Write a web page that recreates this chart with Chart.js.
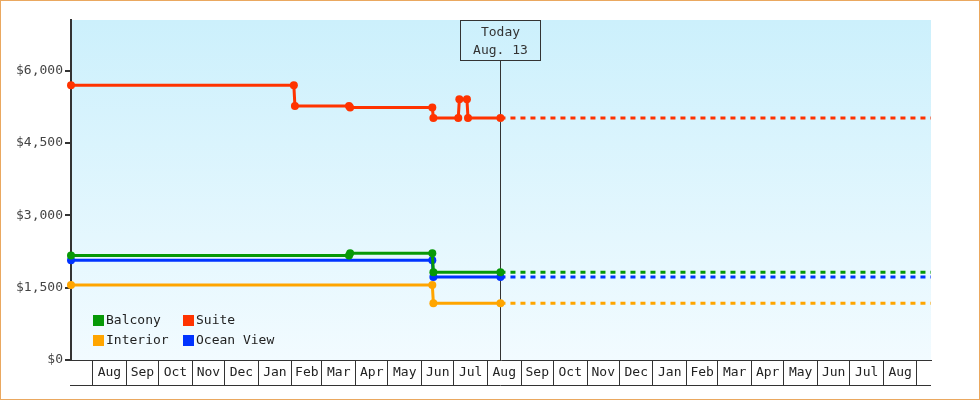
<!DOCTYPE html>
<html><head><meta charset="utf-8">
<script src="https://cdn.jsdelivr.net/npm/chart.js@4"></script>
<style>html,body{margin:0;padding:0;background:#fff}canvas{display:block}</style>
</head><body>
<canvas id="c" width="980" height="400"></canvas>
<script>
// ---- data ----
const seriesNames = ['Balcony', 'Suite', 'Interior', 'Ocean View'];
const seriesColors = ['#079907', '#ff3300', '#ffa500', '#0033ff'];

const balconyDates  = ['2014-07-12','2015-03-26','2015-03-27','2015-06-11','2015-06-12','2015-08-13','2016-09-14'];
const balconyPrices = [2165, 2165, 2215, 2215, 1820, 1820, 1820];

const suiteDates  = ['2014-07-12','2015-02-03','2015-02-04','2015-03-26','2015-03-27','2015-06-11','2015-06-12','2015-07-05','2015-07-06','2015-07-13','2015-07-14','2015-08-13','2016-09-14'];
const suitePrices = [5695, 5695, 5265, 5265, 5235, 5235, 5020, 5020, 5405, 5405, 5020, 5020, 5020];

const interiorDates  = ['2014-07-12','2015-06-11','2015-06-12','2015-08-13','2016-09-14'];
const interiorPrices = [1557, 1557, 1178, 1178, 1178];

const oceanDates  = ['2014-07-12','2015-06-11','2015-06-12','2015-08-13','2016-09-14'];
const oceanPrices = [2070, 2070, 1722, 1722, 1722];

const monthLabels = ['Aug','Sep','Oct','Nov','Dec','Jan','Feb','Mar','Apr','May','Jun','Jul',
                     'Aug','Sep','Oct','Nov','Dec','Jan','Feb','Mar','Apr','May','Jun','Jul','Aug'];
const firstMonthStart = '2014-08-01';
const xStart = '2014-07-12';
const xEnd = '2016-09-14';
const todayDate = '2015-08-13';
const todayLabel = ['Today', 'Aug. 13'];
const priceTicks = [0, 1500, 3000, 4500, 6000];
const priceMin = 0;
const priceMax = 7050;

// ---- helpers ----
function toDay(s) { const p = s.split('-').map(Number); return Date.UTC(p[0], p[1] - 1, p[2]) / 86400000; }
const todayX = toDay(todayDate);
const FONT = { family: '"DejaVu Sans Mono", monospace', size: 13 };

const seriesDates = [balconyDates, suiteDates, interiorDates, oceanDates];
const seriesPrices = [balconyPrices, suitePrices, interiorPrices, oceanPrices];

// month boundaries & label ticks
const xTicks = [];
(function () {
  const p = firstMonthStart.split('-').map(Number);
  const bounds = [];
  for (let i = 0; i <= monthLabels.length; i++) {
    bounds.push(Date.UTC(p[0], p[1] - 1 + i, 1) / 86400000);
  }
  for (let i = 0; i < bounds.length; i++) {
    xTicks.push({ value: bounds[i], boundary: true, txt: '' });
    if (i < monthLabels.length) {
      xTicks.push({ value: (bounds[i] + bounds[i + 1]) / 2, boundary: false, txt: monthLabels[i] });
    }
  }
})();

const datasets = seriesNames.map((name, i) => ({
  label: name,
  data: seriesDates[i].map((d, j) => ({ x: toDay(d), y: seriesPrices[i][j] })),
  borderColor: seriesColors[i],
  backgroundColor: seriesColors[i],
  pointBackgroundColor: seriesColors[i],
  pointBorderWidth: 0,
  pointStyle: 'circle',
  pointRadius: ctx => (ctx.parsed && ctx.parsed.x > todayX) ? 0 : 4,
  borderWidth: 3,
  tension: 0,
  fill: false,
  clip: false,
  borderCapStyle: 'butt',
  segment: { borderDash: ctx => ctx.p0.parsed.x >= todayX ? [5, 5] : undefined }
}));

const decorPlugin = {
  id: 'decor',
  beforeDraw(chart) {
    const { ctx, chartArea: a, width, height } = chart;
    ctx.save();
    ctx.fillStyle = '#ffffff';
    ctx.fillRect(0, 0, width, height);
    const g = ctx.createLinearGradient(0, a.top, 0, a.bottom);
    g.addColorStop(0, '#ccf0fc');
    g.addColorStop(1, '#f2fbff');
    ctx.fillStyle = g;
    ctx.fillRect(a.left, a.top, a.right - a.left, a.bottom - a.top);
    ctx.restore();
  },
  beforeDatasetsDraw(chart) {
    const { ctx, chartArea: a } = chart;
    const xs = chart.scales.x;
    const px = Math.round(xs.getPixelForValue(todayX)) + 0.5;
    ctx.save();
    ctx.strokeStyle = '#333';
    ctx.lineWidth = 1;
    const bw = 80, bh = 40;
    ctx.strokeRect(px - bw / 2, a.top + 0.5, bw, bh);
    ctx.beginPath();
    ctx.moveTo(px, a.top + 0.5 + bh);
    ctx.lineTo(px, a.bottom);
    ctx.stroke();
    ctx.fillStyle = '#333';
    ctx.font = FONT.size + 'px ' + FONT.family;
    ctx.textAlign = 'center';
    ctx.textBaseline = 'middle';
    ctx.fillText(todayLabel[0], px, a.top + 12.5);
    ctx.fillText(todayLabel[1], px, a.top + 30.5);
    ctx.restore();
  },
  afterDraw(chart) {
    const { ctx, chartArea: a, width, height } = chart;
    const xs = chart.scales.x;
    ctx.save();
    // bottom line of month boxes
    ctx.strokeStyle = '#333';
    ctx.lineWidth = 1;
    ctx.beginPath();
    ctx.moveTo(a.left - 1, xs.top + 25.5);
    ctx.lineTo(a.right, xs.top + 25.5);
    ctx.stroke();
    // legend
    ctx.font = FONT.size + 'px ' + FONT.family;
    ctx.textAlign = 'left';
    ctx.textBaseline = 'middle';
    chart.data.datasets.forEach((ds, i) => {
      const col = i % 2, row = Math.floor(i / 2);
      const bx = a.left + 22 + col * 90;
      const by = a.bottom - 45 + row * 20;
      ctx.fillStyle = ds.borderColor;
      ctx.fillRect(bx, by, 11, 11);
      ctx.fillStyle = '#222';
      ctx.fillText(ds.label, bx + 13, by + 6);
    });
    // canvas border
    ctx.strokeStyle = '#eaa860';
    ctx.lineWidth = 1;
    ctx.strokeRect(0.5, 0.5, width - 1, height - 1);
    ctx.restore();
  }
};

new Chart(document.getElementById('c'), {
  type: 'line',
  data: { datasets },
  plugins: [decorPlugin],
  options: {
    responsive: false,
    devicePixelRatio: 1,
    animation: false,
    events: [],
    layout: { padding: { left: 0, right: 49, top: 20, bottom: 15 } },
    plugins: { legend: { display: false }, tooltip: { enabled: false } },
    scales: {
      x: {
        type: 'linear',
        min: toDay(xStart),
        max: toDay(xEnd),
        afterBuildTicks: s => { s.ticks = xTicks.map(t => Object.assign({}, t)); },
        afterFit: s => { s.height = 25; },
        ticks: {
          autoSkip: false, maxRotation: 0, minRotation: 0,
          padding: -20, color: '#222', font: FONT,
          callback: (v, i, ticks) => ticks[i].txt
        },
        grid: {
          drawOnChartArea: false, drawTicks: true, tickLength: 25, lineWidth: 1,
          color: ctx => (ctx.tick && ctx.tick.boundary) ? '#333' : 'rgba(0,0,0,0)'
        },
        border: { display: true, color: '#333', width: 1 }
      },
      y: {
        type: 'linear',
        min: priceMin,
        max: priceMax,
        afterBuildTicks: s => { s.ticks = priceTicks.map(v => ({ value: v })); },
        afterFit: s => { s.width = 71; },
        ticks: {
          padding: 2, color: '#444', font: FONT,
          callback: v => '$' + Number(v).toLocaleString('en-US')
        },
        grid: { drawOnChartArea: false, drawTicks: true, tickLength: 6, lineWidth: 2, color: '#333' },
        border: { display: true, color: '#333', width: 2 }
      }
    }
  }
});
</script>
</body></html>
